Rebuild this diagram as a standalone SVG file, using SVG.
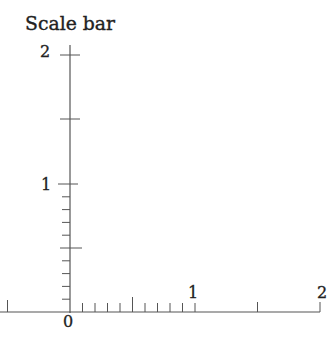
<svg xmlns="http://www.w3.org/2000/svg" width="334" height="338" viewBox="0 0 334 338">
<style>
.ax{stroke:#555;stroke-width:1.2;fill:none}
.tk{stroke:#555;stroke-width:1;fill:none}
.lb{font-family:"DejaVu Serif","Liberation Serif",serif;font-size:16px;fill:#222;stroke:#222;stroke-width:0.3}
.tt{font-family:"DejaVu Serif","Liberation Serif",serif;font-size:18px;fill:#222;stroke:#222;stroke-width:0.35}
</style>
<rect width="334" height="338" fill="#ffffff"/>
<text class="tt" x="25" y="30" textLength="90" lengthAdjust="spacingAndGlyphs">Scale bar</text>
<g id="connectors">
<line class="ax" x1="70" y1="45" x2="70" y2="313"/>
<line class="ax" x1="0" y1="312" x2="320" y2="312"/>
</g>
<g id="vticks">
<path class="tk" d="M60 55H80M60 119H80M58 184H78M60 248H82"/>
<path class="tk" d="M62 196.8H70M62 209.6H70M62 222.4H70M62 235.2H70M62 260.8H70M62 273.6H70M62 286.4H70M62 299.2H70"/>
</g>
<g id="hticks">
<path class="tk" d="M7.5 300V312M82.5 303V312M95 303V312M107.5 303V312M120 303V312M132.5 297V312M145 303V312M157.5 303V312M170 303V312M182.5 303V312M195 303V312M257.5 302V312M320 302V312"/>
</g>
<g id="labels">
<text class="lb" x="45" y="57" text-anchor="middle">2</text>
<text class="lb" x="46" y="190" text-anchor="middle">1</text>
<text class="lb" x="68" y="327" text-anchor="middle">0</text>
<text class="lb" x="193" y="298" text-anchor="middle">1</text>
<text class="lb" x="322" y="298" text-anchor="middle">2</text>
</g>
</svg>
